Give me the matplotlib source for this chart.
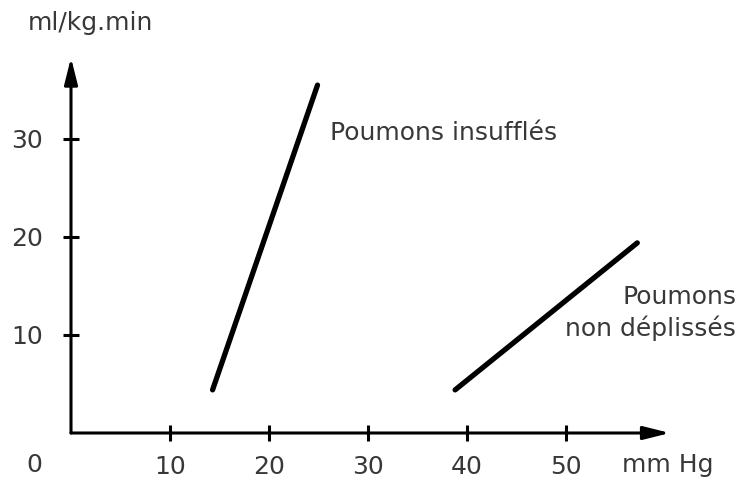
import matplotlib
matplotlib.use("Agg")
import matplotlib.pyplot as plt

# Pressure (mm Hg) vs flow (ml/kg.min) for the two lung states
insuffles_x = [14.3, 24.9]
insuffles_y = [4.4, 35.5]
non_deplisses_x = [38.8, 57.2]
non_deplisses_y = [4.4, 19.4]

x_ticks = [10, 20, 30, 40, 50]
y_ticks = [10, 20, 30]

TEXT = "#383838"
FONT = "DejaVu Sans"
FS = 18

fig = plt.figure(figsize=(7.42, 4.80), dpi=100)
ax = fig.add_axes([0, 0, 1, 1])
ax.set_xlim(-71 / 9.9, (742 - 71) / 9.9)
ax.set_ylim(-47 / 9.8, 433 / 9.8)
ax.patch.set_alpha(0)

# axes through the origin; the axis lines themselves are drawn as arrows
for side in ("top", "right"):
    ax.spines[side].set_visible(False)
for side in ("left", "bottom"):
    ax.spines[side].set_position(("data", 0))
    ax.spines[side].set_linewidth(0)

ax.set_xticks(x_ticks)
ax.set_yticks(y_ticks)
ax.tick_params(direction="inout", length=12, width=2.2, color="black",
               labelsize=FS, labelcolor=TEXT)
ax.tick_params(axis="x", pad=10)
ax.tick_params(axis="y", pad=14)
for lab in ax.get_xticklabels() + ax.get_yticklabels():
    lab.set_fontfamily(FONT)

arrow = dict(arrowstyle="-|>,head_length=1.6,head_width=0.4",
             lw=2.2, color="black", shrinkA=0, shrinkB=0)
ax.annotate("", xy=(0, 38.3), xytext=(0, 0), arrowprops=arrow)
ax.annotate("", xy=(60.5, 0), xytext=(0, 0), arrowprops=arrow)

# curves
ax.plot(insuffles_x, insuffles_y, color="black", lw=3.8, solid_capstyle="round")
ax.plot(non_deplisses_x, non_deplisses_y, color="black", lw=3.8, solid_capstyle="round")

# labels
ax.text(-3.7, -3.3, "0", ha="center", va="center", fontsize=FS, color=TEXT, family=FONT)
ax.text(2.0, 41.8, "ml/kg.min", ha="center", va="center", fontsize=FS, color=TEXT, family=FONT)
ax.text(60.3, -3.3, "mm Hg", ha="center", va="center", fontsize=FS, color=TEXT, family=FONT)
ax.text(26.2, 30.6, "Poumons insufflés", ha="left", va="center", fontsize=FS, color=TEXT, family=FONT)
ax.text(67.2, 13.9, "Poumons", ha="right", va="center", fontsize=FS, color=TEXT, family=FONT)
ax.text(67.2, 10.7, "non déplissés", ha="right", va="center", fontsize=FS, color=TEXT, family=FONT)

fig.savefig("out.png", dpi=100, facecolor="white")
